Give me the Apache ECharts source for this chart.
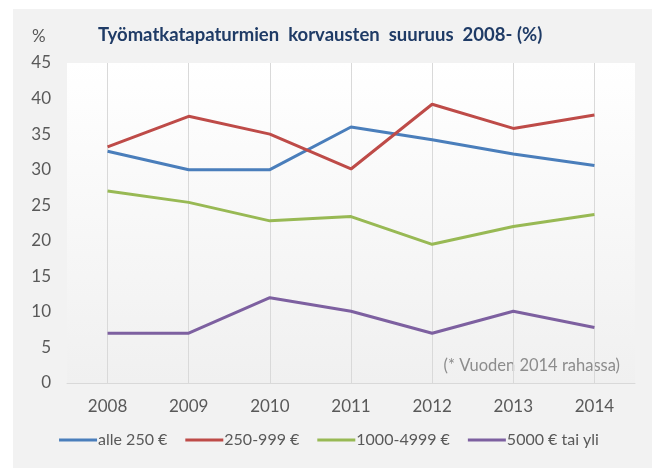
<!DOCTYPE html>
<html>
<head>
<meta charset="utf-8">
<script src="https://cdn.jsdelivr.net/npm/echarts@6/dist/echarts.min.js"></script>
<style>
  html, body { margin: 0; padding: 0; background: #fff; }
  #chart { width: 658px; height: 468px; }
</style>
</head>
<body>
<div id="chart"></div>
<script>
var years = ['2008', '2009', '2010', '2011', '2012', '2013', '2014'];
var yTicks = [0, 5, 10, 15, 20, 25, 30, 35, 40, 45];
var seriesNames = ['alle 250 €', '250-999 €', '1000-4999 €', '5000 € tai yli'];
var alle250 = [32.6, 30.0, 30.0, 36.0, 34.2, 32.2, 30.6];
var from250to999 = [33.2, 37.5, 35.0, 30.1, 39.2, 35.8, 37.7];
var from1000to4999 = [27.0, 25.4, 22.8, 23.4, 19.5, 22.0, 23.7];
var over5000 = [7.0, 7.0, 12.0, 10.1, 7.0, 10.1, 7.8];

var colors = ['#4a7ebb', '#be4b48', '#98b954', '#7d60a0'];
var font = 'Lato, "Liberation Sans", sans-serif';

var chart = echarts.init(document.getElementById('chart'));

function line(name, data, color) {
    return {
        name: name,
        type: 'line',
        data: data,
        symbol: 'none',
        lineStyle: { color: color, width: 3 },
        itemStyle: { color: color }
    };
}

option = {
    backgroundColor: '#ffffff',
    animation: false,
    graphic: [
        {
            type: 'rect',
            z: -10,
            shape: { x: 13, y: 9, width: 639, height: 459 },
            style: { fill: '#f2f2f2' }
        },
        {
            type: 'text',
            left: 32, top: 28,
            style: { text: '%', fill: '#595959', font: '17px ' + font }
        },
        {
            type: 'text',
            right: 38, top: 357,
            style: { text: '(* Vuoden 2014 rahassa)', fill: '#8c8c8c', font: '16.5px ' + font }
        }
    ],
    title: {
        text: 'Työmatkatapaturmien  korvausten  suuruus  2008- (%)',
        left: 93,
        top: 21,
        textStyle: { color: '#1f3b66', fontSize: 18.5, fontWeight: 'bold', fontFamily: font }
    },
    legend: {
        data: seriesNames,
        bottom: 15,
        left: 'center',
        icon: 'rect',
        itemWidth: 38,
        itemHeight: 3,
        itemGap: 18,
        textStyle: { color: '#595959', fontSize: 16, fontFamily: font, padding: [0, 0, 0, -4] }
    },
    grid: {
        left: 67,
        right: 23,
        top: 63,
        bottom: 85,
        show: true,
        borderWidth: 0,
        backgroundColor: new echarts.graphic.LinearGradient(0, 0, 0, 1, [
            { offset: 0, color: '#ffffff' },
            { offset: 1, color: '#f0f0f0' }
        ])
    },
    xAxis: {
        type: 'category',
        data: years,
        boundaryGap: true,
        axisLine: { show: true, lineStyle: { color: '#d9d9d9', width: 1 } },
        axisTick: { show: false },
        axisLabel: { color: '#595959', fontSize: 17, fontFamily: font, margin: 15 },
        splitLine: { show: true, alignWithLabel: true, lineStyle: { color: '#d9d9d9', width: 1 } }
    },
    yAxis: {
        type: 'value',
        min: yTicks[0],
        max: yTicks[yTicks.length - 1],
        interval: 5,
        axisLine: { show: false },
        axisTick: { show: false },
        splitLine: { show: false },
        axisLabel: { color: '#595959', fontSize: 17, fontFamily: font, margin: 16 }
    },
    series: [
        line(seriesNames[0], alle250, colors[0]),
        line(seriesNames[1], from250to999, colors[1]),
        line(seriesNames[2], from1000to4999, colors[2]),
        line(seriesNames[3], over5000, colors[3])
    ]
};

chart.setOption(option);
</script>
</body>
</html>
